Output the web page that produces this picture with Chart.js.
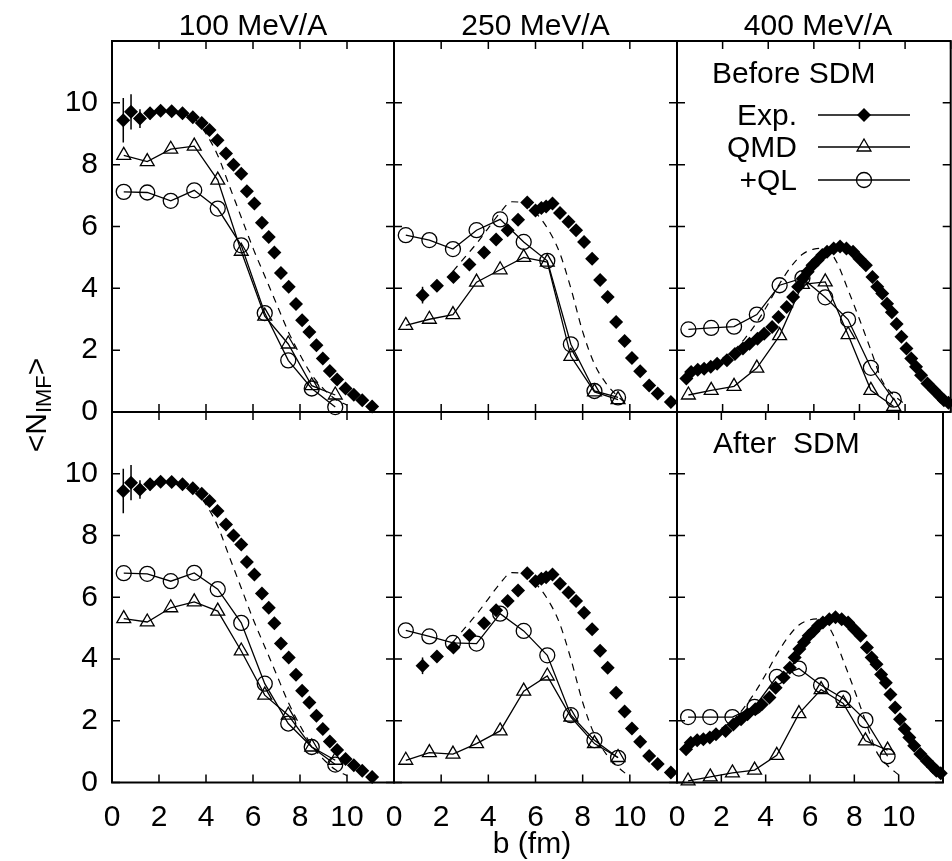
<!DOCTYPE html>
<html>
<head>
<meta charset="utf-8">
<script src="https://cdn.jsdelivr.net/npm/chart.js@4.4.0/dist/chart.umd.min.js"></script>
<style>
  html, body { margin: 0; padding: 0; background: #fff; overflow: hidden; }
  #wrap { position: relative; width: 952px; height: 861px; overflow: hidden; background: #fff; }
  #wrap canvas { position: absolute; left: 0; top: 0; }
</style>
</head>
<body>
<div id="wrap"></div>
<script>
// ---- data ----
const energies = ['100 MeV/A', '250 MeV/A', '400 MeV/A'];
const bCalc = [0.5, 1.5, 2.5, 3.5, 4.5, 5.5, 6.5, 7.5, 8.5, 9.5];

// experiment (same in both rows)
const bExp100 = [0.48, 0.81, 1.19, 1.62, 2.07, 2.54, 3.0, 3.44, 3.82, 4.15, 4.49, 4.85, 5.17, 5.5, 5.74, 6.06,
                 6.38, 6.67, 6.91, 7.19, 7.52, 7.83, 8.09, 8.4, 8.7, 8.97, 9.27, 9.58, 9.94, 10.29, 10.65, 11.07];
const exp100 = [9.44, 9.71, 9.49, 9.66, 9.74, 9.73, 9.66, 9.53, 9.35, 9.12, 8.79, 8.36, 8.0, 7.71, 7.14, 6.74,
                6.12, 5.66, 5.16, 4.5, 4.05, 3.49, 2.97, 2.59, 2.16, 1.73, 1.33, 1.05, 0.76, 0.56, 0.38, 0.18];
const errExp100 = [0.72, 0.57, 0.3, 0.2, 0.12];

const bExp250 = [1.21, 1.82, 2.52, 3.2, 3.82, 4.33, 4.82, 5.26, 5.65, 6.0, 6.25, 6.45, 6.72, 7.04, 7.4, 7.72,
                 8.06, 8.4, 8.74, 9.06, 9.42, 9.78, 10.09, 10.44, 10.82, 11.18, 11.74];
const exp250 = [3.78, 4.08, 4.37, 4.77, 5.16, 5.58, 5.88, 6.22, 6.78, 6.52, 6.6, 6.65, 6.74, 6.44, 6.15, 5.88,
                5.5, 4.96, 4.27, 3.72, 2.91, 2.3, 1.75, 1.32, 0.86, 0.6, 0.32];
const errExp250 = [0.27];

const bExp400 = [0.41, 0.62, 0.91, 1.19, 1.48, 1.76, 2.19, 2.54, 2.89, 3.18, 3.53, 3.82, 4.17, 4.45, 4.81, 5.09,
                 5.31, 5.52, 5.73, 5.94, 6.16, 6.37, 6.58, 6.87, 7.15, 7.43, 7.72, 8.0, 8.28, 8.57, 8.78, 9.0,
                 9.21, 9.42, 9.63, 9.84, 10.06, 10.27, 10.48, 10.7, 10.98, 11.27, 11.55, 11.7, 11.9];
const exp400 = [1.08, 1.29, 1.37, 1.4, 1.46, 1.56, 1.67, 1.88, 2.05, 2.21, 2.37, 2.53, 2.75, 3.07, 3.4, 3.72,
                4.05, 4.32, 4.54, 4.75, 4.91, 5.08, 5.18, 5.29, 5.35, 5.29, 5.18, 4.96, 4.75, 4.37, 4.05, 3.83,
                3.5, 3.23, 2.85, 2.43, 2.05, 1.73, 1.46, 1.19, 0.92, 0.7, 0.49, 0.38, 0.3];
const errExp400 = [];

// QMD and QMD+QL, before SDM (top row)
const qmdBefore100 = [8.3, 8.1, 8.5, 8.6, 7.5, 5.2, 3.1, 2.2, 0.85, 0.55];
const qmdBefore250 = [2.8, 3.0, 3.15, 4.2, 4.6, 5.0, 4.85, 1.8, 0.65, 0.4];
const qmdBefore400 = [0.55, 0.7, 0.83, 1.42, 2.47, 4.13, 4.21, 2.5, 0.7, 0.18];
const qlBefore100 = [7.12, 7.1, 6.83, 7.17, 6.58, 5.39, 3.2, 1.67, 0.76, 0.16];
const qlBefore250 = [5.72, 5.56, 5.27, 5.88, 6.23, 5.5, 4.89, 2.19, 0.68, 0.47];
const qlBefore400 = [2.67, 2.72, 2.76, 3.15, 4.1, 4.33, 3.71, 2.99, 1.43, 0.4];

// after SDM (bottom row)
const qmdAfter100 = [5.31, 5.2, 5.66, 5.85, 5.55, 4.26, 2.83, 2.18, 1.15, 0.72];
const qmdAfter250 = [0.72, 0.97, 0.92, 1.26, 1.67, 2.96, 3.45, 2.12, 1.26, 0.81];
const qmdAfter400 = [0.05, 0.18, 0.31, 0.4, 0.88, 2.23, 3.01, 2.56, 1.35, 1.05];
const qlAfter100 = [6.78, 6.76, 6.52, 6.79, 6.26, 5.17, 3.2, 1.91, 1.15, 0.58];
const qlAfter250 = [4.93, 4.73, 4.52, 4.5, 5.47, 4.91, 4.12, 2.18, 1.37, 0.8];
const qlAfter400 = [2.12, 2.12, 2.12, 2.45, 3.42, 3.69, 3.15, 2.72, 2.02, 0.85];

// dashed curves (same in both rows)
const bDash100 = [3.0, 3.5, 4.0, 4.5, 5.0, 5.5, 6.0, 6.5, 7.0, 7.5, 8.0, 8.5, 9.0, 9.5, 10.0];
const dash100 = [9.65, 9.5, 9.0, 8.3, 7.3, 6.3, 5.3, 4.4, 3.5, 2.6, 1.85, 1.2, 0.75, 0.42, 0.22];
const bDash250 = [2.5, 3.0, 3.5, 4.0, 4.5, 5.0, 5.5, 6.0, 6.5, 7.0, 7.5, 8.0, 8.5, 9.0, 9.5, 10.0];
const dash250 = [4.55, 5.0, 5.45, 5.95, 6.45, 6.8, 6.75, 6.45, 5.95, 5.2, 4.0, 2.6, 1.55, 0.92, 0.5, 0.18];
const bDash400 = [2.0, 2.5, 3.0, 3.5, 4.0, 4.5, 5.0, 5.5, 6.0, 6.5, 7.0, 7.5, 8.0, 8.5, 9.0, 9.5, 10.0];
const dash400 = [1.75, 2.0, 2.4, 2.9, 3.5, 4.15, 4.7, 5.1, 5.27, 5.3, 4.85, 3.95, 3.0, 2.0, 1.0, 0.55, 0.25];

const yTicks = [0, 2, 4, 6, 8, 10, 12];
const xTicks = [0, 2, 4, 6, 8, 10, 12];

// ---- layout ----
const FONT = "'Liberation Sans', Arial, Helvetica, sans-serif";
const CW = 960, CH = 861;
const colLeft = [112, 394, 677], colRight = [394, 677, 959];
const rowTop = [41, 412], rowBottom = [412, 782.5];

const expB = [bExp100, bExp250, bExp400];
const expV = [exp100, exp250, exp400];
const expErr = [errExp100, errExp250, errExp400];
const qmd = [[qmdBefore100, qmdBefore250, qmdBefore400], [qmdAfter100, qmdAfter250, qmdAfter400]];
const ql = [[qlBefore100, qlBefore250, qlBefore400], [qlAfter100, qlAfter250, qlAfter400]];
const dashB = [bDash100, bDash250, bDash400];
const dashV = [dash100, dash250, dash400];

const xy = (xs, ys) => xs.map((x, i) => ({ x: x, y: ys[i] }));

// frame with inward ticks on all four sides
const framePlugin = {
  id: 'frame',
  beforeDatasetsDraw(chart) {
    const ctx = chart.ctx, a = chart.chartArea, x = chart.scales.x, y = chart.scales.y;
    ctx.save();
    ctx.strokeStyle = '#000';
    ctx.lineWidth = 1.5;
    ctx.beginPath();
    x.ticks.forEach(t => {
      const px = x.getPixelForValue(t.value);
      ctx.moveTo(px, a.bottom); ctx.lineTo(px, a.bottom - 8);
      ctx.moveTo(px, a.top); ctx.lineTo(px, a.top + 8);
    });
    y.ticks.forEach(t => {
      const py = y.getPixelForValue(t.value);
      ctx.moveTo(a.left, py); ctx.lineTo(a.left + 8, py);
      ctx.moveTo(a.right, py); ctx.lineTo(a.right - 8, py);
    });
    ctx.stroke();
    ctx.lineWidth = 2;
    ctx.strokeRect(a.left, a.top, a.right - a.left, a.bottom - a.top);
    ctx.restore();
  }
};

// vertical error bars on the experimental points
const errorBarPlugin = {
  id: 'errorBars',
  afterDatasetsDraw(chart) {
    const ds = chart.data.datasets[0];
    if (!ds.errors || !ds.errors.length) return;
    const ctx = chart.ctx, x = chart.scales.x, y = chart.scales.y;
    ctx.save();
    ctx.strokeStyle = '#000';
    ctx.lineWidth = 1.5;
    ctx.beginPath();
    ds.errors.forEach((e, i) => {
      if (!e) return;
      const p = ds.data[i];
      const px = x.getPixelForValue(p.x);
      ctx.moveTo(px, y.getPixelForValue(p.y - e));
      ctx.lineTo(px, y.getPixelForValue(p.y + e));
    });
    ctx.stroke();
    ctx.restore();
  }
};

// free text: titles, axis titles, panel notes
const textPlugin = {
  id: 'texts',
  afterDraw(chart, args, opts) {
    const ctx = chart.ctx;
    ctx.save();
    ctx.fillStyle = '#000';
    (opts.items || []).forEach(it => {
      ctx.font = (it.size || 30) + 'px ' + FONT;
      ctx.textAlign = it.align || 'left';
      ctx.textBaseline = 'alphabetic';
      ctx.fillText(it.text, it.x, it.y);
    });
    if (opts.yTitle) {
      // <N_IMF>, rotated
      const t = opts.yTitle;
      ctx.translate(t.x, t.y);
      ctx.rotate(-Math.PI / 2);
      ctx.textBaseline = 'middle';
      ctx.textAlign = 'left';
      const big = '30px ' + FONT, small = '22px ' + FONT;
      ctx.font = big; const w1 = ctx.measureText('<N').width, w3 = ctx.measureText('>').width;
      ctx.font = small; const w2 = ctx.measureText('IMF').width;
      let cx = -(w1 + w2 + w3) / 2;
      ctx.font = big; ctx.fillText('<N', cx, 0); cx += w1;
      ctx.font = small; ctx.fillText('IMF', cx, 7); cx += w2;
      ctx.font = big; ctx.fillText('>', cx, 0);
    }
    ctx.restore();
  }
};

// key in the top right panel
const keyPlugin = {
  id: 'key',
  afterDraw(chart, args, opts) {
    if (!opts.show) return;
    const ctx = chart.ctx;
    const rows = [
      { label: 'Exp.', style: 'diamond', y: 115 },
      { label: 'QMD', style: 'triangle', y: 147 },
      { label: '+QL', style: 'circle', y: 180 }
    ];
    ctx.save();
    ctx.fillStyle = '#000';
    ctx.strokeStyle = '#000';
    ctx.font = '30px ' + FONT;
    ctx.textAlign = 'right';
    ctx.textBaseline = 'alphabetic';
    rows.forEach(r => {
      ctx.fillText(r.label, 797, r.y + 10);
      ctx.lineWidth = 1.3;
      ctx.beginPath(); ctx.moveTo(818, r.y); ctx.lineTo(910, r.y); ctx.stroke();
      const mx = 864, my = r.y;
      ctx.beginPath();
      if (r.style === 'diamond') {
        ctx.moveTo(mx - 7, my); ctx.lineTo(mx, my - 7); ctx.lineTo(mx + 7, my); ctx.lineTo(mx, my + 7);
        ctx.closePath(); ctx.fill();
      } else if (r.style === 'triangle') {
        ctx.moveTo(mx, my - 8); ctx.lineTo(mx + 6.93, my + 4); ctx.lineTo(mx - 6.93, my + 4);
        ctx.closePath(); ctx.stroke();
      } else {
        ctx.arc(mx, my, 7.5, 0, Math.PI * 2); ctx.stroke();
      }
    });
    ctx.restore();
  }
};

const wrap = document.getElementById('wrap');

for (let row = 0; row < 2; row++) {
  for (let col = 0; col < 3; col++) {
    const cv = document.createElement('canvas');
    cv.width = CW; cv.height = CH;
    cv.style.width = CW + 'px'; cv.style.height = CH + 'px';
    wrap.appendChild(cv);

    const items = [];
    if (row === 0) items.push({ text: energies[col], x: (colLeft[col] + colRight[col]) / 2, y: 35, align: 'center' });
    if (row === 0 && col === 2) items.push({ text: 'Before SDM', x: 712, y: 83 });
    if (row === 1 && col === 2) items.push({ text: 'After  SDM', x: 713, y: 453 });
    if (row === 1 && col === 1) items.push({ text: 'b (fm)', x: 532, y: 853, align: 'center' });

    // axis boxes fill the whole margin so that tick labels are not clipped
    const axisW = colLeft[col];
    const axisH = CH - rowBottom[row];

    new Chart(cv, {
      type: 'scatter',
      data: {
        datasets: [
          {
            label: 'Exp.',
            data: xy(expB[col], expV[col]),
            errors: expErr[col],
            showLine: false,
            pointStyle: 'rectRot',
            pointRadius: 7,
            pointBackgroundColor: '#000',
            pointBorderColor: '#000',
            pointBorderWidth: 0,
            clip: false
          },
          {
            label: 'QMD',
            data: xy(bCalc, qmd[row][col]),
            showLine: true,
            borderColor: '#000',
            borderWidth: 1.3,
            pointStyle: 'triangle',
            pointRadius: 8,
            pointBackgroundColor: 'rgba(0,0,0,0)',
            pointBorderColor: '#000',
            pointBorderWidth: 1.3,
            clip: false
          },
          {
            label: '+QL',
            data: xy(bCalc, ql[row][col]),
            showLine: true,
            borderColor: '#000',
            borderWidth: 1.3,
            pointStyle: 'circle',
            pointRadius: 7.5,
            pointBackgroundColor: 'rgba(0,0,0,0)',
            pointBorderColor: '#000',
            pointBorderWidth: 1.3,
            clip: false
          },
          {
            label: 'dashed',
            data: xy(dashB[col], dashV[col]),
            showLine: true,
            borderColor: '#000',
            borderWidth: 1.2,
            borderDash: [7, 6],
            cubicInterpolationMode: 'monotone',
            pointRadius: 0,
            clip: false
          }
        ]
      },
      options: {
        responsive: false,
        animation: false,
        devicePixelRatio: 1,
        events: [],
        layout: {
          padding: { left: 0, top: rowTop[row], right: CW - colRight[col], bottom: 0 }
        },
        plugins: {
          legend: { display: false },
          tooltip: { enabled: false },
          texts: { items: items, yTitle: (row === 0 && col === 0) ? { x: 38, y: 405 } : null },
          key: { show: row === 0 && col === 2 }
        },
        scales: {
          x: {
            type: 'linear',
            min: 0, max: 12,
            afterFit: s => { s.height = axisH; },
            afterBuildTicks: s => { s.ticks = xTicks.map(v => ({ value: v })); },
            grid: { display: false, drawTicks: false },
            border: { display: false },
            ticks: {
              display: row === 1,
              autoSkip: false,
              maxRotation: 0,
              padding: 17,
              color: '#000',
              font: { family: FONT, size: 30 },
              callback: v => (v === 12 ? '' : v)
            }
          },
          y: {
            type: 'linear',
            min: 0, max: 12,
            afterFit: s => { s.width = axisW; },
            afterBuildTicks: s => { s.ticks = yTicks.map(v => ({ value: v })); },
            grid: { display: false, drawTicks: false },
            border: { display: false },
            ticks: {
              display: col === 0,
              autoSkip: false,
              padding: 14,
              color: '#000',
              font: { family: FONT, size: 30 },
              callback: v => (v === 12 ? '' : v)
            }
          }
        }
      },
      plugins: [framePlugin, errorBarPlugin, textPlugin, keyPlugin]
    });
  }
}
</script>
</body>
</html>
